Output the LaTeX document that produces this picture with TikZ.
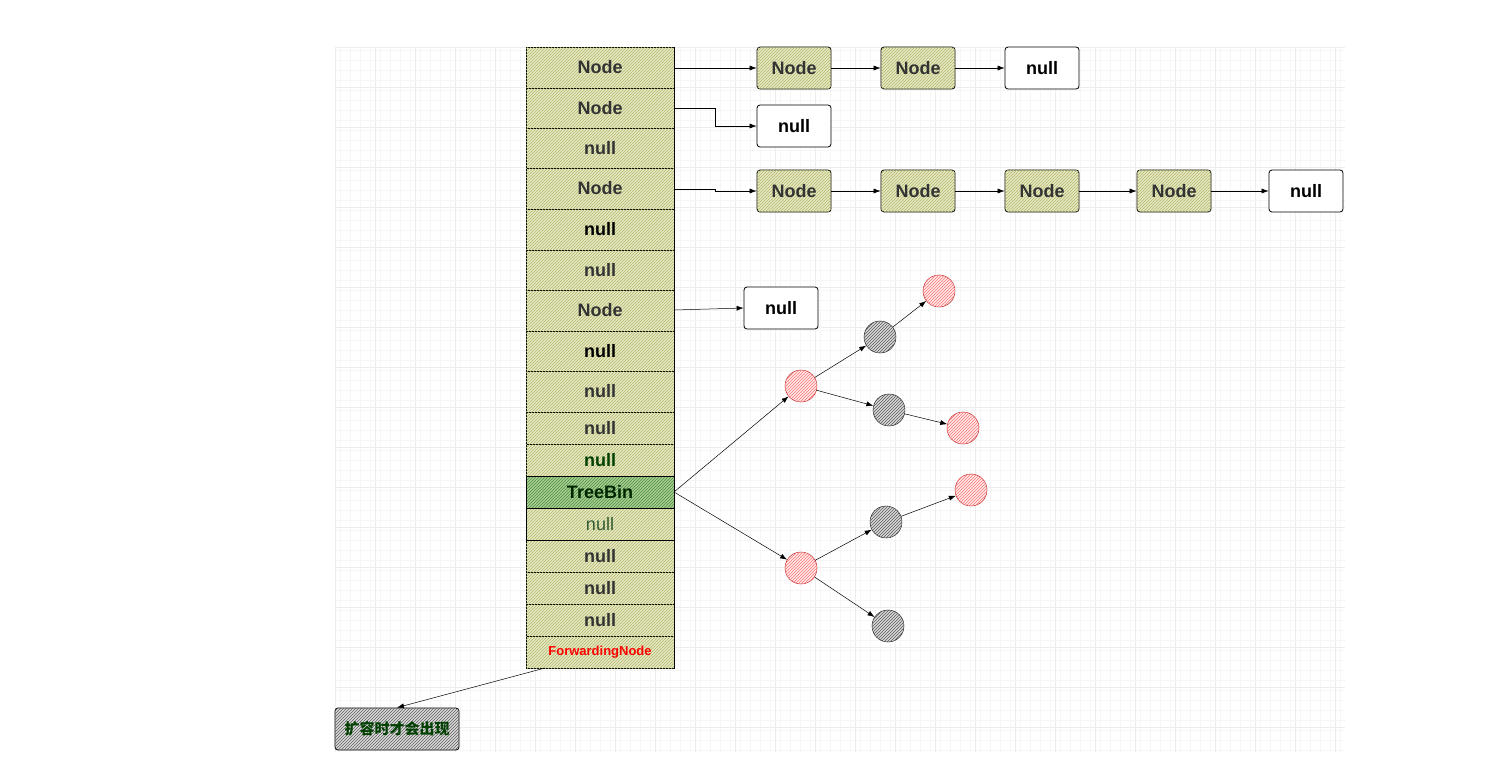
\documentclass[tikz,border=0pt]{standalone}
\usepackage{fontspec}
\setmainfont{Liberation Sans}
\newfontfamily\cjk{Noto Sans CJK SC}
\usetikzlibrary{patterns,arrows.meta}
\definecolor{hfill}{HTML}{E6E9C4}
\definecolor{hline}{HTML}{B3B86A}
\definecolor{tgreen}{HTML}{A9D08E}
\definecolor{txt}{HTML}{333333}
\begin{document}
\begin{tikzpicture}[x=1pt,y=-1pt,
  big/.style={font=\fontsize{18}{20}\selectfont\bfseries},
  cell/.style={draw=black,fill=hfill,postaction={pattern={north east lines},pattern color=hline}},
  box/.style={cell,rounded corners=3pt,minimum width=74pt,minimum height=42pt,big,text=txt,line width=0.8pt},
  nbox/.style={draw=black,fill=white,rounded corners=3pt,minimum width=74pt,minimum height=42pt,big,line width=0.8pt},
  lbl/.style={big,text=txt},
  rc/.style={circle,draw=red!70!black,fill=red!8,postaction={pattern={north east lines},pattern color=red!55},minimum size=32pt,inner sep=0},
  bc/.style={circle,draw=black,fill=gray!30,postaction={pattern={north east lines},pattern color=gray!70!black},minimum size=32pt,inner sep=0},
  ar/.style={-{Latex[length=7pt,width=5pt]},line width=0.5pt}]
\useasboundingbox (0,0) rectangle (1487,761);
% grid
\fill[white] (335,47) rectangle (1345,752);
\draw[gray!7,step=10pt] (335,47) grid (1345,752);
\draw[gray!14,step=40pt,shift={(15,7)}] (320,40) grid (1330,745);
% array
\foreach \t/\b/\l/\c [count=\i] in {47/88/Node/txt,88/128/Node/txt,128/168/null/txt,168/209/Node/txt,209/250/null/black,250/290/null/txt,290/331/Node/txt,331/371/null/black,371/412/null/txt,412/444/null/txt,444/476/null/green!25!black,508/540/null/txt,540/572/null/txt,572/604/null/txt,604/636/null/txt}{
  \draw[cell] (526,\t) rectangle (674,\b);
  \node[lbl,text=\c] (r\i) at (600,{(\t+\b)/2}) {\l};
}
\fill[tgreen] (526,476) rectangle (674,508);
\draw[black,pattern={north east lines},pattern color=green!35!black!70] (526,476) rectangle (674,508);
\node[big,text=green!15!black] (rt) at (600,492) {TreeBin};
\fill[hfill] (526,508) rectangle (674,540);
\draw[pattern={north east lines},pattern color=hline] (526,508) rectangle (674,540);
\node[font=\fontsize{18}{20}\selectfont,text=green!20!black!80] (rn) at (600,524) {null};
\draw[cell] (526,636) rectangle (674,668);
\node[font=\fontsize{13}{15}\selectfont\bfseries,text=red] (rf) at (600,652) {ForwardingNode};
% chains
\node[box] (a1) at (794,68) {Node};
\node[box] (a2) at (918,68) {Node};
\node[nbox] (a3) at (1042,68) {null};
\node[nbox] (b1) at (794,126) {null};
\node[box] (c1) at (794,191) {Node};
\node[box] (c2) at (918,191) {Node};
\node[box] (c3) at (1042,191) {Node};
\node[box] (c4) at (1174,191) {Node};
\node[nbox] (c5) at (1306,191) {null};
\node[nbox] (d1) at (781,308) {null};
\coordinate (e1) at (674,68);
\coordinate (e2) at (674,108);
\coordinate (e4) at (674,189);
\coordinate (e7) at (674,310);
\draw[ar] (e1) -- (a1);
\draw[ar] (a1) -- (a2);
\draw[ar] (a2) -- (a3);
\draw[ar] (e2) -- (715,108) -- (715,126) -- (b1);
\draw[ar] (e4) -- (715,189) -- (715,191) -- (c1);
\draw[ar] (c1) -- (c2);
\draw[ar] (c2) -- (c3);
\draw[ar] (c3) -- (c4);
\draw[ar] (c4) -- (c5);
\draw[ar] (e7) -- (d1.west);
% tree
\node[rc] (t1) at (801,386) {};
\node[rc] (t2) at (801,568) {};
\node[bc] (k1) at (880,337) {};
\node[bc] (k2) at (889,410) {};
\node[bc] (k3) at (886,522) {};
\node[bc] (k4) at (888,626) {};
\node[rc] (u1) at (939,291) {};
\node[rc] (u2) at (963,428) {};
\node[rc] (u3) at (971,490) {};
\coordinate (tb) at (674,492);
\draw[ar] (tb) -- (t1);
\draw[ar] (tb) -- (t2);
\draw[ar] (t1) -- (k1);
\draw[ar] (k1) -- (u1);
\draw[ar] (t1) -- (k2);
\draw[ar] (k2) -- (u2);
\draw[ar] (t2) -- (k3);
\draw[ar] (k3) -- (u3);
\draw[ar] (t2) -- (k4);
% note
\node[draw=black,fill=gray!30,postaction={pattern={north east lines},pattern color=gray!75!black},rounded corners=3pt,minimum width=124pt,minimum height=42pt,line width=0.8pt,font=\cjk\bfseries\fontsize{15}{17}\selectfont,text=green!25!black] (n) at (397,729) {扩容时才会出现};
\coordinate (fw) at (545,668);
\draw[ar] (fw) -- (n.north);
\end{tikzpicture}
\end{document}
